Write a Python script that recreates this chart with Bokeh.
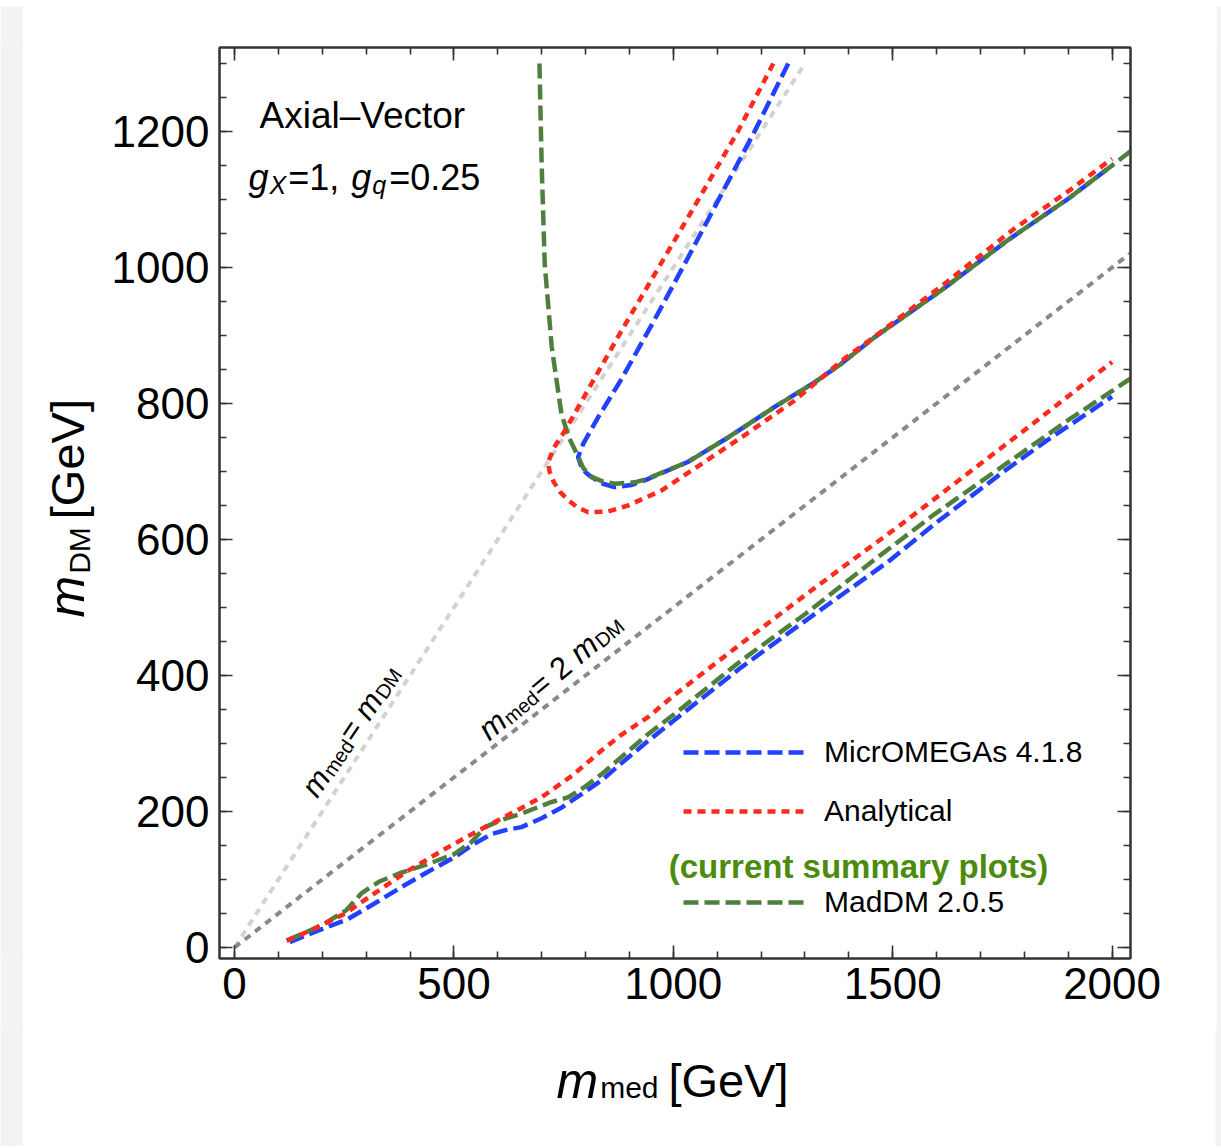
import math
from bokeh.plotting import figure
from bokeh.layouts import row, column
from bokeh.models import (Range1d, LinearAxis, SingleIntervalTicker, Label,
                          Legend, LegendItem)
from bokeh.embed import file_html
from bokeh.resources import INLINE

# ---------------- data ----------------
# MicrOMEGAs 4.1.8 (blue dashed)
micro_lo_x = [126, 180, 259, 320, 381, 440, 502, 545, 586, 620, 654, 700, 746, 790,
              837, 880, 943, 1000, 1155, 1300, 1489, 1600, 1747, 1850, 2000]
micro_lo_y = [8, 22, 42, 65, 89, 111, 133, 152, 167, 173, 177, 190, 206, 225,
              246, 270, 304, 333, 412, 480, 567, 625, 697, 745, 810]
micro_up_x = [1262, 1186, 1110, 1034, 958, 882, 829, 795, 783, 790, 800, 813, 840,
              866, 904, 935, 1033, 1125, 1231, 1322, 1382, 1458, 1610, 1762, 1900, 2000]
micro_up_y = [1300, 1201, 1108, 1015, 924, 836, 780, 741, 721, 708, 699, 692, 682,
              677, 680, 687, 714, 750, 795, 831, 858, 897, 966, 1040, 1101, 1150]

# Analytical (red dotted)
ana_lo_x = [119, 180, 252, 320, 396, 480, 556, 630, 700, 770, 837, 880, 943, 1000,
            1155, 1300, 1413, 1519, 1671, 1823, 2000]
ana_lo_y = [10, 27, 50, 80, 113, 145, 172, 197, 221, 253, 290, 312, 339, 370,
            447, 518, 572, 622, 697, 772, 861]
ana_up_x = [1228, 1148, 1034, 882, 753, 728, 715, 718, 728, 742, 760, 780, 806, 850,
            897, 973, 1064, 1155, 1276, 1382, 1458, 1610, 1777, 1900, 2000]
ana_up_y = [1300, 1201, 1074, 907, 760, 735, 714, 700, 684, 670, 658, 648, 640, 641,
            650, 672, 711, 750, 804, 862, 898, 972, 1057, 1112, 1160]

# MadDM 2.0.5 (green dashed)
mad_lo_x = [119, 200, 255, 290, 330, 380, 442, 500, 540, 571, 610, 654, 723, 761,
            800, 837, 880, 943, 1000, 1155, 1300, 1458, 1595, 1747, 1899, 2050]
mad_lo_y = [10, 33, 55, 80, 97, 110, 123, 137, 155, 177, 188, 197, 214, 221,
            237, 255, 279, 314, 342, 422, 490, 570, 637, 706, 775, 840]
mad_up_x = [695, 700, 707, 723, 745, 762, 780, 795, 814, 840, 867, 912, 935, 1033,
            1125, 1231, 1322, 1382, 1458, 1610, 1762, 1900, 2000, 2050]
mad_up_y = [1300, 1152, 1005, 883, 785, 750, 726, 705, 692, 685, 682, 684, 688, 714,
            750, 795, 831, 858, 897, 966, 1040, 1101, 1150, 1175]

# reference lines m_med = m_DM and m_med = 2 m_DM
diag1_x = [0, 1300]
diag1_y = [0, 1300]
diag2_x = [0, 2100]
diag2_y = [0, 1050]

x_ticks_interval = 500
y_ticks_interval = 200

# ---------------- page geometry (page pixels) ----------------
TOP_H = 6             # light grey band at the top
LEFT_W = 23           # light grey band at the left
RIGHT_W = 6           # light grey band at the right
YF_W = 85             # strip holding the y title
FL, FT, FSIZE = 218, 47, 911
FB = FT + FSIZE       # 958
MAIN_BOTTOM = 1028    # page y where the main figure ends
TOTAL_W = 1221
TOTAL_H = 1146
BG_STRIP = "#f3f3f3"

P_W = TOTAL_W - LEFT_W - YF_W - RIGHT_W          # width of main figure
ROW_H = MAIN_BOTTOM - TOP_H
P_LEFT_BORDER = FL - LEFT_W - YF_W
P_TOP_BORDER = FT - TOP_H
P_BOTTOM_BORDER = MAIN_BOTTOM - FB

p = figure(frame_width=FSIZE, frame_height=FSIZE,
           min_border_left=P_LEFT_BORDER,
           min_border_right=P_W - P_LEFT_BORDER - FSIZE,
           min_border_top=P_TOP_BORDER, min_border_bottom=P_BOTTOM_BORDER,
           x_range=Range1d(-34.2, 2042), y_range=Range1d(-16.2, 1323.5),
           output_backend="svg", toolbar_location=None,
           background_fill_color="white", border_fill_color="white")
p.grid.visible = False
p.outline_line_color = "#333333"
p.outline_line_width = 2

FRAME_COL = "#333333"


def style_axis(ax, show_labels):
    ax.axis_line_color = FRAME_COL
    ax.axis_line_width = 2
    ax.major_tick_in = 13
    ax.major_tick_out = 0
    ax.minor_tick_in = 7
    ax.minor_tick_out = 0
    ax.major_tick_line_color = FRAME_COL
    ax.major_tick_line_width = 1.6
    ax.minor_tick_line_color = FRAME_COL
    ax.minor_tick_line_width = 1.6
    if show_labels:
        ax.major_label_text_font = "Liberation Sans"
        ax.major_label_text_font_size = "44px"
        ax.major_label_text_color = "black"
    else:
        ax.major_label_text_font_size = "0px"
        ax.major_label_text_alpha = 0


p.xaxis.ticker = SingleIntervalTicker(interval=x_ticks_interval, num_minor_ticks=5)
p.yaxis.ticker = SingleIntervalTicker(interval=y_ticks_interval, num_minor_ticks=4)
style_axis(p.xaxis[0], True)
style_axis(p.yaxis[0], True)
p.xaxis.major_label_standoff = 9
p.yaxis.major_label_standoff = 10

top_ax = LinearAxis(ticker=SingleIntervalTicker(interval=x_ticks_interval, num_minor_ticks=5))
right_ax = LinearAxis(ticker=SingleIntervalTicker(interval=y_ticks_interval, num_minor_ticks=4))
style_axis(top_ax, False)
style_axis(right_ax, False)
p.add_layout(top_ax, "above")
p.add_layout(right_ax, "right")

# ---------------- lines ----------------
BLUE = "#2140ff"
RED = "#ff2a1e"
GREEN = "#4f7f3c"
LW = 4.5

p.line(diag1_x, diag1_y, line_color="#d2d2d2", line_width=4, line_dash="7 6")
p.line(diag2_x, diag2_y, line_color="#8a8a8a", line_width=4, line_dash="7 6")

r_blue = p.line(micro_lo_x, micro_lo_y, line_color=BLUE, line_width=LW, line_dash="15 6")
p.line(micro_up_x, micro_up_y, line_color=BLUE, line_width=LW, line_dash="15 6")
r_green = p.line(mad_lo_x, mad_lo_y, line_color=GREEN, line_width=LW, line_dash="15 6")
p.line(mad_up_x, mad_up_y, line_color=GREEN, line_width=LW, line_dash="15 6")
r_red = p.line(ana_lo_x, ana_lo_y, line_color=RED, line_width=LW, line_dash="8 6")
p.line(ana_up_x, ana_up_y, line_color=RED, line_width=LW, line_dash="8 6")

# ---------------- legends ----------------


def make_legend(items, vx, vy, spacing):
    lg = Legend(items=items, location=(vx, vy), orientation="vertical",
                glyph_width=122, glyph_height=20, label_height=20,
                label_standoff=19, spacing=spacing, padding=0, margin=0,
                border_line_color=None, background_fill_alpha=0,
                label_text_font="Liberation Sans", label_text_font_size="30px",
                label_text_color="black")
    p.add_layout(lg)


make_legend([LegendItem(label="MicrOMEGAs 4.1.8", renderers=[r_blue]),
             LegendItem(label="Analytical", renderers=[r_red])],
            682 - FL, FB - 828, 25)
make_legend([LegendItem(label="MadDM 2.0.5", renderers=[r_green])],
            682 - FL, FB - 919, 0)

# ---------------- text helpers ----------------
W = {"m": .833, "e": .556, "d": .556, "D": .722, "M": .833, "=": .584, " ": .278,
     "2": .556, "[": .278, "]": .278, "G": .778, "V": .667, "g": .556, "X": .667,
     "1": .556, ",": .278, "q": .556, "0": .556, ".": .278, "5": .556}


def add_text(fig, origin, txt, px, py, size, style="normal", color="black",
             angle=0, align="left", baseline="alphabetic"):
    ox, oy = origin
    fig.add_layout(Label(x=px - ox, y=oy - py, x_units="screen", y_units="screen",
                         text=txt, text_font="Liberation Sans",
                         text_font_size=f"{size}px", text_font_style=style,
                         text_color=color, angle=angle, angle_units="deg",
                         text_align=align, text_baseline=baseline))


def run(fig, origin, pieces, px, py, angle=0, centred=False):
    """Lay out text pieces along a baseline starting at page point (px, py)."""
    a = math.radians(angle)
    ux, uy = math.cos(a), -math.sin(a)
    dx, dy = math.sin(a), math.cos(a)
    s = 0.0
    for txt, size, style, shift, gap in pieces:
        s += gap
        off = shift - (0.33 * size if centred else 0.0)
        add_text(fig, origin, txt, px + ux * s + dx * off,
                 py + uy * s + dy * off, size, style, angle=angle,
                 baseline="middle" if centred else "alphabetic")
        s += sum(W.get(c, .556) for c in txt) * size


MAIN_O = (FL, FB)

# panel texts
add_text(p, MAIN_O, "Axial\u2013Vector", 258, 115, 37)
run(p, MAIN_O, [("g", 36, "italic", 0, 0), ("X", 25, "italic", 7, 1),
                ("=1, ", 36, "normal", 0, 2), ("g", 36, "italic", 0, 2),
                ("q", 25, "italic", 7, 1), ("=0.25", 36, "normal", 0, 3)], 247, 177)

add_text(p, MAIN_O, "(current summary plots)", 857, 866, 33, style="bold",
         color="#4b8b0e", align="center")

# reference line annotations
run(p, MAIN_O, [("m", 31, "italic", 0, 0), ("med", 20, "normal", 5, 1),
                ("= ", 31, "normal", 0, 1), ("m", 31, "italic", 0, 0),
                ("DM", 20, "normal", 5, 1)], 307, 793, angle=56)
run(p, MAIN_O, [("m", 31, "italic", 0, 0), ("med", 20, "normal", 5, 1),
                ("= 2 ", 31, "normal", 0, 1), ("m", 31, "italic", 0, 0),
                ("DM", 20, "normal", 5, 1)], 481, 733, angle=40)

# ---------------- strips around the main figure ----------------


def blank(w, h, color="white", top=0, bottom=0):
    f = figure(width=w, height=h, x_range=Range1d(0, 1), y_range=Range1d(0, 1),
               x_axis_location=None, y_axis_location=None,
               min_border_left=0, min_border_right=0, min_border_top=top,
               min_border_bottom=bottom, output_backend="svg",
               toolbar_location=None, background_fill_color=color,
               border_fill_color=color, outline_line_color=None)
    f.grid.visible = False
    return f


top_band = blank(TOTAL_W, TOP_H, BG_STRIP)

# y title strip: frame aligned with the main frame (page y 47..958)
yfig = blank(YF_W, ROW_H, "white", top=P_TOP_BORDER, bottom=P_BOTTOM_BORDER)
Y_O = (LEFT_W, FB)
run(yfig, Y_O, [("m", 50, "italic", 0, 0), ("DM", 30, "normal", 6, 2),
                (" [GeV]", 47, "normal", 0, 8)], 83, 617, angle=90, centred=True)

row1 = row(blank(LEFT_W, ROW_H, BG_STRIP), yfig, p,
           blank(RIGHT_W, ROW_H, BG_STRIP), spacing=0)

XF_H = TOTAL_H - MAIN_BOTTOM
XF_W = TOTAL_W - LEFT_W - RIGHT_W
xfig = blank(XF_W, XF_H, "white")
X_O = (LEFT_W, TOTAL_H)
run(xfig, X_O, [("m", 50, "italic", 0, 0), ("med", 30, "normal", 7, 2),
                (" [GeV]", 47, "normal", 0, 10)], 556, 1080)

row2 = row(blank(LEFT_W, XF_H, BG_STRIP), xfig,
           blank(RIGHT_W, XF_H, BG_STRIP), spacing=0)

layout = column(top_band, row1, row2, spacing=0)

open("out.html", "w").write(file_html(layout, INLINE))
